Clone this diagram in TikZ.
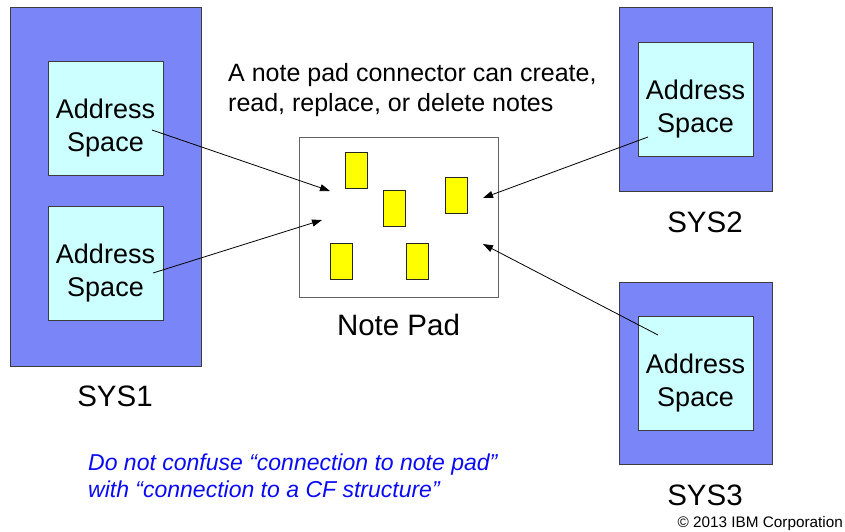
\documentclass[tikz,border=0pt]{standalone}
\usepackage{fontspec}
\setmainfont{Liberation Sans}
\usetikzlibrary{arrows.meta}

\definecolor{sysblue}{RGB}{122,134,248}
\definecolor{asfill}{RGB}{204,255,255}
\definecolor{noteyellow}{RGB}{255,255,0}
\definecolor{edgegray}{RGB}{60,60,60}
\definecolor{remarkblue}{RGB}{10,10,245}

\tikzset{
  sysbox/.style={draw=edgegray, line width=0.9pt, fill=sysblue, inner sep=0pt},
  asbox/.style={draw=edgegray, line width=0.9pt, fill=asfill, inner sep=0pt,
    minimum width=115pt, minimum height=114pt},
  astext/.style={align=center, inner sep=0pt, font=\fontsize{27}{33}\selectfont},
  padbox/.style={draw=edgegray!80, line width=0.9pt, fill=white, inner sep=0pt,
    minimum width=199pt, minimum height=160pt},
  notebox/.style={draw=black!85, line width=0.8pt, fill=noteyellow, inner sep=0pt,
    minimum width=22pt, minimum height=36pt},
  caption/.style={inner sep=0pt, anchor=base, font=\fontsize{29.5}{35}\selectfont},
  link/.style={line width=0.8pt, -{Triangle[length=10pt,width=7pt]}},
}

\begin{document}
\begin{tikzpicture}[x=1pt, y=-1pt]
  \useasboundingbox (0,0) rectangle (845,531);

  % SYS1 with two address spaces
  \node[sysbox, minimum width=191pt, minimum height=359pt] (sys1) at (105.5,186.5) {};
  \node[asbox] (as1a) at (105.5,118) {};
  \node[astext, yshift=-9.6pt] (as1at) at (as1a.center) {Address\\Space};
  \node[asbox] (as1b) at (105.5,263) {};
  \node[astext, yshift=-9.6pt] (as1bt) at (as1b.center) {Address\\Space};
  \node[caption] (sys1lbl) at (115,406) {SYS1};

  % SYS2
  \node[sysbox, minimum width=153pt, minimum height=184pt] (sys2) at (695.5,99) {};
  \node[asbox] (as2) at (695.5,99) {};
  \node[astext, yshift=-9.6pt] (as2t) at (as2.center) {Address\\Space};
  \node[caption] (sys2lbl) at (705,232) {SYS2};

  % SYS3
  \node[sysbox, minimum width=153pt, minimum height=182pt] (sys3) at (695.5,373) {};
  \node[asbox] (as3) at (695.5,373) {};
  \node[astext, yshift=-9.6pt] (as3t) at (as3.center) {Address\\Space};
  \node[caption] (sys3lbl) at (705,505) {SYS3};

  % The note pad and its notes
  \node[padbox] (pad) at (398.5,217) {};
  \node[notebox] (n1) at (356,170) {};
  \node[notebox] (n2) at (394,208) {};
  \node[notebox] (n3) at (456,195) {};
  \node[notebox] (n4) at (341,261) {};
  \node[notebox] (n5) at (417,261) {};
  \node[caption] (padlbl) at (398.5,335) {Note Pad};

  % Connector end points
  \coordinate (s1) at ([shift={(46.5pt,-12pt)}]as1a.center);
  \coordinate (s2) at ([shift={(47.5pt,-10pt)}]as1b.center);
  \coordinate (s3) at ([shift={(-47.5pt,-38pt)}]as2.center);
  \coordinate (s4) at ([shift={(-37.5pt,38pt)}]as3.center);
  \coordinate (e1) at (330,191);
  \coordinate (e2) at (322,220);
  \coordinate (e3) at (483,198);
  \coordinate (e4) at (483,244);

  \draw[link] (s1) -- (e1);
  \draw[link] (s2) -- (e2);
  \draw[link] (s3) -- (e3);
  \draw[link] (s4) -- (e4);

  % Explanatory texts (base anchor sits on the last line)
  \node[anchor=base west, inner sep=0pt, align=left,
        font=\fontsize{25}{30}\selectfont] (info) at (228,111)
        {A note pad connector can create,\\read, replace, or delete notes};
  \node[anchor=base west, inner sep=0pt, align=left, text=remarkblue,
        font=\fontsize{23}{27}\selectfont\itshape] (remark) at (88,497)
        {Do not confuse “connection to note pad”\\with “connection to a CF structure”};
  \node[anchor=base east, inner sep=0pt,
        font=\fontsize{15.3}{18}\selectfont] (copy) at (843,527)
        {© 2013 IBM Corporation};
\end{tikzpicture}
\end{document}
